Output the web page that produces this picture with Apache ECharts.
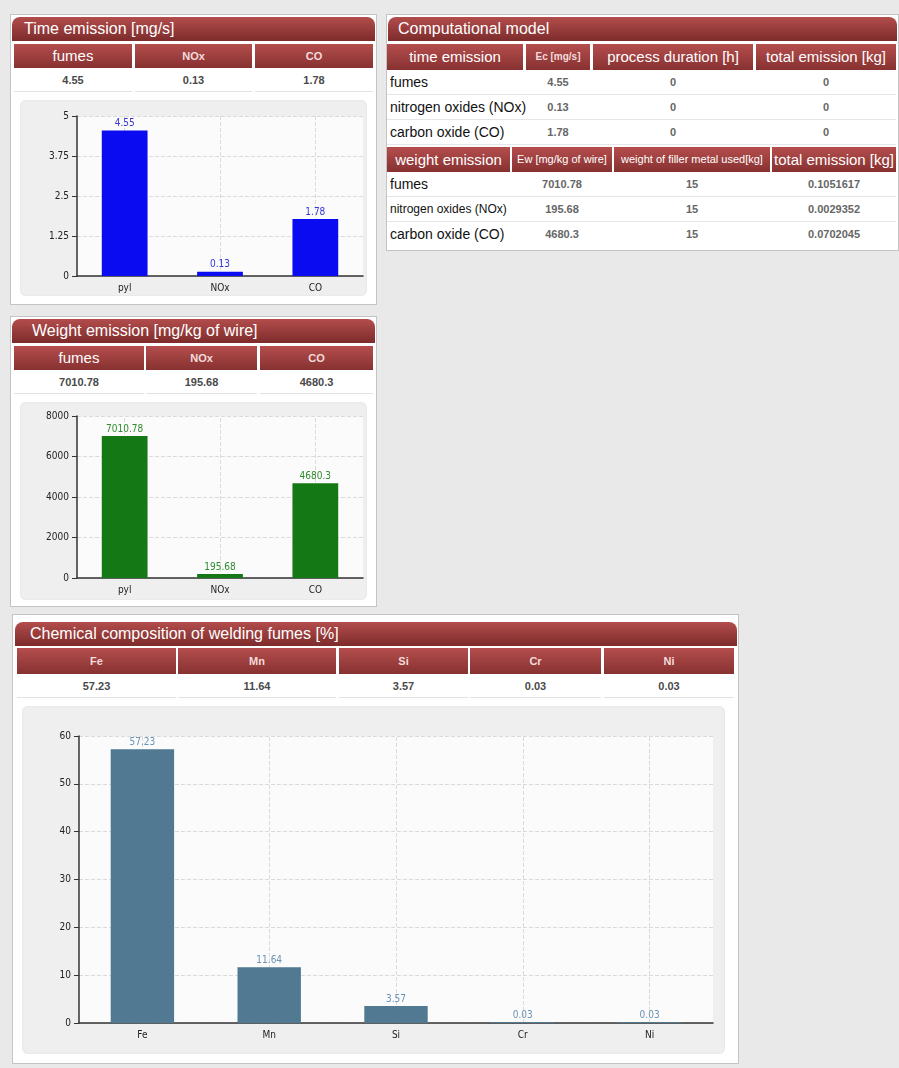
<!DOCTYPE html>
<html>
<head>
<meta charset="utf-8">
<script src="https://cdn.jsdelivr.net/npm/echarts@6/dist/echarts.min.js"></script>
<style>
  body { margin:0; width:899px; height:1068px; background:#e9e9e9; position:relative; overflow:hidden;
         font-family:'Liberation Sans', Arial, sans-serif; }
  .panel { position:absolute; background:#fff; border:1px solid #c4c4c4; box-sizing:border-box; }
  .title { position:absolute; height:24px; line-height:24px; color:#fff; font-size:16px; box-sizing:border-box;
           border-radius:8px 8px 0 0; background:linear-gradient(#b24d4c, #7d2b2b); }
  .hcell { position:absolute; color:#fff; text-align:center; box-sizing:border-box; white-space:nowrap;
           background:linear-gradient(#b44e4d, #873131); }
  .vcell { position:absolute; text-align:center; color:#4a4a4a; font-size:11px; font-weight:bold; box-sizing:border-box;
           border-bottom:1px solid #e2e2e2; background:#fff; }
  .lcell { position:absolute; color:#111; box-sizing:border-box; white-space:nowrap; padding-left:3px; }
  .box { position:absolute; background:#efefef; border-radius:6px; box-shadow:0 0 2px #ddd inset; }
</style>
</head>
<body>
<div id="page"></div>
<script>
// ---- data ----
const gasNames = ['fumes', 'NOx', 'CO'];
const chartCats = ['pyl', 'NOx', 'CO'];
const timeEmission = [4.55, 0.13, 1.78];
const weightEmission = [7010.78, 195.68, 4680.3];
const elements = ['Fe', 'Mn', 'Si', 'Cr', 'Ni'];
const composition = [57.23, 11.64, 3.57, 0.03, 0.03];
const modelRows = ['fumes', 'nitrogen oxides (NOx)', 'carbon oxide (CO)'];
const timeHead = ['time emission', 'Ec [mg/s]', 'process duration [h]', 'total emission [kg]'];
const weightHead = ['weight emission', 'Ew [mg/kg of wire]', 'weight of filler metal used[kg]', 'total emission [kg]'];
const processDuration = [0, 0, 0];
const timeTotal = [0, 0, 0];
const fillerWeight = [15, 15, 15];
const weightTotal = ['0.1051617', '0.0029352', '0.0702045'];

const page = document.getElementById('page');

function el(cls, x, y, w, h, text, style) {
  const d = document.createElement('div');
  d.className = cls;
  d.style.left = x + 'px'; d.style.top = y + 'px';
  d.style.width = w + 'px'; d.style.height = h + 'px';
  if (text !== undefined) d.textContent = text;
  if (style) Object.assign(d.style, style);
  page.appendChild(d);
  return d;
}

function headRow(cols, y, h, labels, sizes) {
  cols.forEach((c, i) => {
    const fs = sizes[i];
    const small = fs <= 11 && !/\[mg\/kg|filler/.test(labels[i]);
    el('hcell', c[0], y, c[1] - c[0], h, labels[i], {
      fontSize: fs + 'px', lineHeight: h + 'px',
      fontWeight: small ? 'bold' : 'normal',
      color: small ? '#f3dcdc' : '#fff'
    });
  });
}
function valueRow(cols, y, h, vals) {
  cols.forEach((c, i) => el('vcell', c[0], y, c[1] - c[0], h, String(vals[i]), { lineHeight: h + 'px' }));
}

// panels
el('panel', 10, 14, 367, 291);
el('panel', 10, 316, 367, 291);
el('panel', 12, 614, 727, 450);
el('panel', 386, 14, 513, 237);

// Time emission panel
el('title', 12, 17, 363, 24, 'Time emission [mg/s]', { paddingLeft: '12px' });
const c1 = [[14, 132], [135, 252], [255, 373]];
headRow(c1, 44, 24, gasNames, [15, 11, 11]);
valueRow(c1, 68, 24, timeEmission);
el('box', 20, 100, 347, 196);

// Weight emission panel
el('title', 12, 319, 363, 24, 'Weight emission [mg/kg of wire]', { paddingLeft: '20px' });
const c2 = [[14, 144], [146, 257], [260, 373]];
headRow(c2, 346, 24, gasNames, [15, 11, 11]);
valueRow(c2, 370, 24, weightEmission);
el('box', 20, 402, 347, 198);

// Chemical composition panel
el('title', 15, 622, 722, 24, 'Chemical composition of welding fumes [%]', { paddingLeft: '15px' });
const c3 = [[17, 176], [178, 336], [339, 468], [470, 601], [604, 734]];
headRow(c3, 648, 26, elements, [11, 11, 11, 11, 11]);
valueRow(c3, 674, 24, composition);
el('box', 22, 706, 703, 348);

// Computational model panel
el('title', 388, 17, 509, 24, 'Computational model', { paddingLeft: '10px' });
const m1 = [[387, 523], [526, 590], [593, 753], [756, 896]];
headRow(m1, 44, 26, timeHead, [15, 10, 15, 15]);
modelRows.forEach((r, i) => {
  const y = 70 + i * 25;
  el('lcell', 387, y, 509, 25, r, { fontSize: '14px', lineHeight: '25px', borderBottom: '1px solid #e6e6e6' });
  [timeEmission[i], processDuration[i], timeTotal[i]].forEach((v, j) =>
    el('vcell', m1[j + 1][0], y, m1[j + 1][1] - m1[j + 1][0], 24, String(v), { lineHeight: '24px', border: 'none', background: 'transparent', color: '#666' }));
});
const m2 = [[387, 510], [512, 612], [614, 770], [772, 896]];
headRow(m2, 147, 25, weightHead, [15, 11, 11, 15]);
modelRows.forEach((r, i) => {
  const y = 172 + i * 25;
  el('lcell', 387, y, 509, 25, r, { fontSize: i === 1 ? '12px' : '14px', lineHeight: '25px', borderBottom: i < 2 ? '1px solid #e6e6e6' : 'none' });
  [weightEmission[i], fillerWeight[i], weightTotal[i]].forEach((v, j) =>
    el('vcell', m2[j + 1][0], y, m2[j + 1][1] - m2[j + 1][0], 24, String(v), { lineHeight: '24px', border: 'none', background: 'transparent', color: '#666' }));
});

// ---- charts ----
function barChart(box, cats, vals, o) {
  const d = el('', box[0], box[1], box[2], box[3]);
  d.style.position = 'absolute';
  const chart = echarts.init(d);
  const axisColor = '#333';
  chart.setOption({
    animation: false,
    textStyle: { fontFamily: "'DejaVu Sans Condensed', 'DejaVu Sans', sans-serif" },
    grid: Object.assign({ show: true, backgroundColor: '#fbfbfb', borderWidth: 0 }, o.grid),
    xAxis: {
      type: 'category', data: cats,
      axisLine: { lineStyle: { color: axisColor, width: 1.5 } },
      axisTick: { alignWithLabel: true, length: 5, lineStyle: { color: axisColor } },
      axisLabel: { color: '#222', fontSize: 10, margin: 7 },
      splitLine: { show: false }
    },
    yAxis: {
      type: 'value', min: 0, max: o.max, interval: o.interval,
      axisLine: { show: true, lineStyle: { color: axisColor, width: 1.5 } },
      axisTick: { show: true, length: 5, lineStyle: { color: axisColor } },
      axisLabel: { color: '#222', fontSize: 10, margin: 8, formatter: v => String(v) },
      splitLine: { lineStyle: { type: 'dashed', color: '#dadada' } }
    },
    series: [{
      type: 'bar', data: vals, barWidth: o.barWidth, barMinHeight: 1,
      itemStyle: { color: o.color },
      label: { show: true, position: 'top', distance: 2, color: o.labelColor, fontSize: 10 },
      markLine: {
        silent: true, symbol: 'none', z: 1, animation: false,
        label: { show: false },
        lineStyle: { type: 'dashed', color: '#dadada', width: 1 },
        data: cats.map(c => ({ xAxis: c }))
      }
    }]
  });
}

barChart([20, 100, 347, 196], chartCats, timeEmission, {
  grid: { left: 57, top: 16, right: 4, bottom: 20 },
  max: 5, interval: 1.25, barWidth: '48%', color: '#0b0bf2', labelColor: '#3535d8'
});
barChart([20, 402, 347, 198], chartCats, weightEmission, {
  grid: { left: 57, top: 14, right: 4, bottom: 22 },
  max: 8000, interval: 2000, barWidth: '48%', color: '#147814', labelColor: '#2e8b2e'
});
barChart([22, 706, 703, 348], elements, composition, {
  grid: { left: 57, top: 30, right: 12, bottom: 31 },
  max: 60, interval: 10, barWidth: '50%', color: '#517992', labelColor: '#6b93b3'
});
</script>
</body>
</html>
